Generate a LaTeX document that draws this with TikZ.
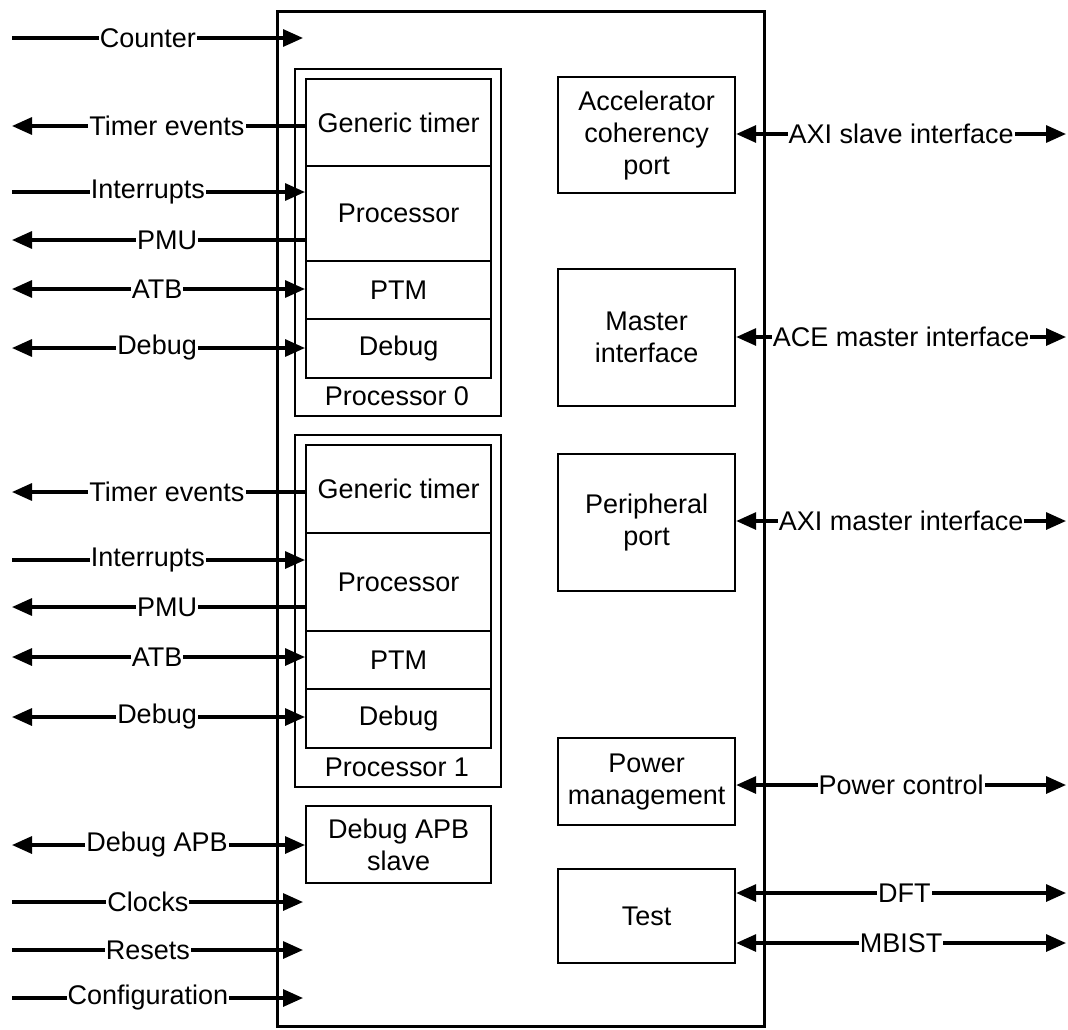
\documentclass[tikz,border=0pt]{standalone}
\usepackage{fontspec}
\setmainfont{Liberation Sans}
\usetikzlibrary{arrows.meta}
\begin{document}
\begin{tikzpicture}[x=1pt,y=-1pt,
  >={Triangle[length=20pt,width=17pt]},
  txt/.style={font=\fontsize{27}{32}\selectfont},
  box/.style={draw, line width=2.2pt, anchor=north west, inner sep=0pt, align=center, txt},
  sig/.style={line width=3.2pt},
  lbl/.style={fill=white, inner sep=1pt, txt}]
\useasboundingbox (0,0) rectangle (1068,1029);
% main block
\node[draw, line width=2.6pt, anchor=north west, minimum width=487pt, minimum height=1015pt] (cluster) at (276,10) {};
% processor 0
\node[box, minimum width=206pt, minimum height=347pt] (p0) at (294,68) {};
\node[box, minimum width=185pt, minimum height=87pt] (gt0) at (305,78) {Generic timer};
\node[box, minimum width=185pt, minimum height=95pt] (pr0) at (305,165) {Processor};
\node[box, minimum width=185pt, minimum height=58pt] (ptm0) at (305,260) {PTM};
\node[box, minimum width=185pt, minimum height=59pt] (dbg0) at (305,318) {Debug};
\node[txt] (p0lbl) at (397,396) {Processor 0};
% processor 1
\node[box, minimum width=206pt, minimum height=352pt] (p1) at (294,434) {};
\node[box, minimum width=185pt, minimum height=88pt] (gt1) at (305,444) {Generic timer};
\node[box, minimum width=185pt, minimum height=98pt] (pr1) at (305,532) {Processor};
\node[box, minimum width=185pt, minimum height=58pt] (ptm1) at (305,630) {PTM};
\node[box, minimum width=185pt, minimum height=59pt] (dbg1) at (305,688) {Debug};
\node[txt] (p1lbl) at (397,767) {Processor 1};
% debug apb
\node[box, minimum width=185pt, minimum height=77pt] (apb) at (305,805) {Debug APB\\slave};
% right blocks
\node[box, minimum width=177pt, minimum height=116pt] (acp) at (557,76) {Accelerator\\coherency\\port};
\node[box, minimum width=177pt, minimum height=137pt] (mif) at (557,268) {Master\\interface};
\node[box, minimum width=177pt, minimum height=137pt] (pp) at (557,453) {Peripheral\\port};
\node[box, minimum width=177pt, minimum height=87pt] (pm) at (557,737) {Power\\management};
\node[box, minimum width=177pt, minimum height=94pt] (test) at (557,868) {Test};
% left free ends
\coordinate (cnt) at (12,38);   \coordinate (cntE) at (303,38);
\coordinate (te0) at (12,126);  \coordinate (in0) at (12,192);
\coordinate (pmu0) at (12,240); \coordinate (atb0) at (12,289);
\coordinate (db0) at (12,348);
\coordinate (te1) at (12,492);  \coordinate (in1) at (12,560);
\coordinate (pmu1) at (12,607); \coordinate (atb1) at (12,657);
\coordinate (db1) at (12,717);
\coordinate (dapb) at (12,845);
\coordinate (clk) at (12,902);  \coordinate (clkE) at (303,902);
\coordinate (rst) at (12,950);  \coordinate (rstE) at (303,950);
\coordinate (cfg) at (12,998);  \coordinate (cfgE) at (303,998);
% right free ends
\coordinate (axs) at (1066,134); \coordinate (ace) at (1066,337);
\coordinate (axm) at (1066,521); \coordinate (pwc) at (1066,785);
\coordinate (dft) at (1066,893); \coordinate (mbi) at (1066,943);
% left connectors
\draw[sig,->] (cnt) -- node[lbl,pos=0.467]{Counter} (cntE);
\draw[sig,<-] (te0) -- node[lbl,pos=0.529]{Timer events} (gt0.west |- te0);
\draw[sig,->] (in0) -- node[lbl,pos=0.464]{Interrupts} (pr0.west |- in0);
\draw[sig,<-] (pmu0) -- node[lbl,pos=0.529]{PMU} (pr0.west |- pmu0);
\draw[sig,<->] (atb0) -- node[lbl,pos=0.495]{ATB} (ptm0.west |- atb0);
\draw[sig,<->] (db0) -- node[lbl,pos=0.495]{Debug} (dbg0.west |- db0);
\draw[sig,<-] (te1) -- node[lbl,pos=0.529]{Timer events} (gt1.west |- te1);
\draw[sig,->] (in1) -- node[lbl,pos=0.464]{Interrupts} (pr1.west |- in1);
\draw[sig,<-] (pmu1) -- node[lbl,pos=0.529]{PMU} (pr1.west |- pmu1);
\draw[sig,<->] (atb1) -- node[lbl,pos=0.495]{ATB} (ptm1.west |- atb1);
\draw[sig,<->] (db1) -- node[lbl,pos=0.495]{Debug} (dbg1.west |- db1);
\draw[sig,<->] (dapb) -- node[lbl,pos=0.495]{Debug APB} (apb.west |- dapb);
\draw[sig,->] (clk) -- node[lbl,pos=0.467]{Clocks} (clkE);
\draw[sig,->] (rst) -- node[lbl,pos=0.467]{Resets} (rstE);
\draw[sig,->] (cfg) -- node[lbl,pos=0.467]{Configuration} (cfgE);
% right connectors
\draw[sig,<->] (acp.east |- axs) -- node[lbl,pos=0.5]{AXI slave interface} (axs);
\draw[sig,<->] (mif.east |- ace) -- node[lbl,pos=0.5]{ACE master interface} (ace);
\draw[sig,<->] (pp.east |- axm) -- node[lbl,pos=0.5]{AXI master interface} (axm);
\draw[sig,<->] (pm.east |- pwc) -- node[lbl,pos=0.5]{Power control} (pwc);
\draw[sig,<->] (test.east |- dft) -- node[lbl,pos=0.51]{DFT} (dft);
\draw[sig,<->] (test.east |- mbi) -- node[lbl,pos=0.5]{MBIST} (mbi);
\end{tikzpicture}
\end{document}
